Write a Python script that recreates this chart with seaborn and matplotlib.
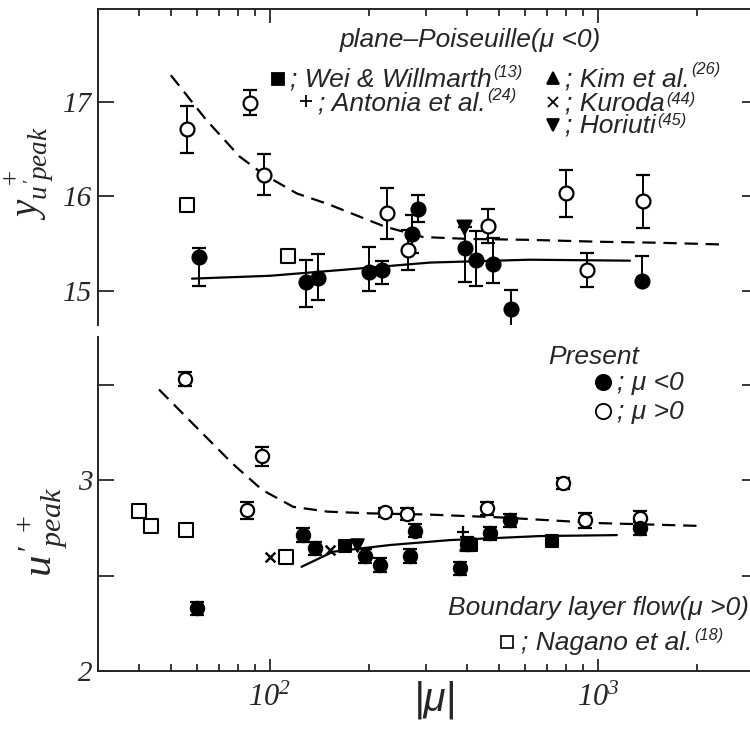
import matplotlib
matplotlib.use('Agg')
import matplotlib.pyplot as plt
from matplotlib.lines import Line2D
import seaborn as sns
import pandas as pd
import numpy as np

# ---- top panel: y_u'peak+ ----
top_neg_x = [61, 129, 140, 200, 220, 272, 283, 394, 424, 477, 543, 1364]
top_neg_y = [15.36, 15.09, 15.14, 15.20, 15.22, 15.60, 15.87, 15.45, 15.33, 15.28, 14.81, 15.11]
top_neg_lo = [0.31, 0.26, 0.24, 0.20, 0.15, 0.20, 0.14, 0.36, 0.28, 0.20, 0.24, 0.0]
top_neg_hi = [0.09, 0.24, 0.25, 0.26, 0.10, 0.20, 0.14, 0.23, 0.30, 0.28, 0.20, 0.26]

top_pos_x = [56, 87, 96, 228, 264, 463, 796, 924, 1368]
top_pos_y = [16.71, 16.99, 16.23, 15.82, 15.43, 15.69, 16.03, 15.22, 15.95]
top_pos_err = [0.25, 0.13, 0.22, 0.27, 0.21, 0.18, 0.25, 0.18, 0.28]

top_nagano_x = [56, 114]
top_nagano_y = [15.91, 15.37]
top_horiuti_x = [390]
top_horiuti_y = [15.68]

top_dash_x = [50, 64, 81, 96, 121, 150, 224, 293, 400, 617, 1000, 1500, 2460]
top_dash_y = [17.28, 16.81, 16.42, 16.23, 16.03, 15.92, 15.68, 15.57, 15.55, 15.54, 15.52, 15.51, 15.49]
top_solid_x = [58, 100, 163, 308, 617, 1250]
top_solid_y = [15.13, 15.16, 15.22, 15.30, 15.33, 15.32]

# ---- bottom panel: u'peak+ ----
bot_neg_x = [60, 126, 137, 195, 216, 267, 277, 379, 398, 469, 540, 1343]
bot_neg_y = [2.328, 2.712, 2.642, 2.602, 2.555, 2.602, 2.735, 2.538, 2.665, 2.721, 2.79, 2.747]
bot_neg_err = [0.035] * 12

bot_pos_x = [55.4, 85, 95, 224, 261, 458, 783, 912, 1343]
bot_pos_y = [3.529, 2.843, 3.126, 2.831, 2.822, 2.852, 2.983, 2.79, 2.80]
bot_pos_err = [0.035, 0.045, 0.05, 0.025, 0.03, 0.035, 0.03, 0.04, 0.04]

bot_nagano_x = [40, 43.6, 55.5, 112.4]
bot_nagano_y = [2.839, 2.761, 2.738, 2.598]
bot_kuroda_x = [100, 152.5]
bot_kuroda_y = [2.595, 2.633]
bot_wei_x = [170, 410, 722]
bot_wei_y = [2.655, 2.66, 2.682]
bot_kim_x = [395]
bot_kim_y = [2.665]
bot_horiuti_x = [185, 402]
bot_horiuti_y = [2.66, 2.665]
bot_antonia_x = [388]
bot_antonia_y = [2.73]

bot_dash_x = [46, 61, 77, 95, 118, 150, 202, 300, 500, 1000, 2050]
bot_dash_y = [3.475, 3.262, 3.087, 2.948, 2.86, 2.835, 2.826, 2.82, 2.805, 2.775, 2.76]
bot_solid_x = [125, 156, 232, 354, 665, 1140]
bot_solid_y = [2.546, 2.625, 2.66, 2.686, 2.707, 2.712]

sns.set_style('ticks')
plt.rcParams['font.family'] = ['Liberation Sans', 'DejaVu Sans']
plt.rcParams['mathtext.fontset'] = 'custom'
plt.rcParams['mathtext.rm'] = 'Liberation Serif:italic'
plt.rcParams['mathtext.it'] = 'Liberation Serif:italic'
plt.rcParams['mathtext.default'] = 'it'

W, H = 750, 731
fig = plt.figure(figsize=(7.5, 7.31), dpi=100)


def fx(px):
    return px / W


def fy(py):
    return 1 - py / H


ax1 = fig.add_axes([fx(98), fy(325), 1 - fx(98), fy(9) - fy(325)])
ax2 = fig.add_axes([fx(98), fy(671), 1 - fx(98), fy(337) - fy(671)])

for ax in (ax1, ax2):
    ax.set_xscale('log')
    ax.set_xlim(30, 2900)
    ax.patch.set_visible(False)
ax1.set_ylim(14.64, 17.98)
ax2.set_ylim(2.0, 3.75)


def curve(ax, x, y, dashed):
    ls = (0, (6, 3.5)) if dashed else '-'
    sns.lineplot(x=x, y=y, ax=ax, color='black', linewidth=1.6, linestyle=ls,
                 sort=False, estimator=None, zorder=1)


def points(ax, x, y, lo, hi, filled, ms=10):
    ax.errorbar(x, y, yerr=[lo, hi], fmt='none', ecolor='black', elinewidth=1.4,
                capsize=5, capthick=1.6, zorder=2)
    sns.scatterplot(x=x, y=y, ax=ax, marker='o', s=ms ** 2,
                    color='black' if filled else 'white', edgecolor='black',
                    linewidth=1.6, zorder=3)


def marks(ax, x, y, marker, filled=True, ms=10, lw=1.5):
    if marker in ('x', '+'):
        sns.scatterplot(x=x, y=y, ax=ax, marker=marker, s=ms ** 2, color='black',
                        linewidth=lw, zorder=3)
    else:
        sns.scatterplot(x=x, y=y, ax=ax, marker=marker, s=ms ** 2,
                        color='black' if filled else 'white', edgecolor='black',
                        linewidth=lw, zorder=3)


# top panel
curve(ax1, top_dash_x, top_dash_y, True)
curve(ax1, top_solid_x, top_solid_y, False)
points(ax1, top_pos_x, top_pos_y, top_pos_err, top_pos_err, False)
points(ax1, top_neg_x, top_neg_y, top_neg_lo, top_neg_hi, True)
marks(ax1, top_nagano_x, top_nagano_y, 's', filled=False, ms=10)
marks(ax1, top_horiuti_x, top_horiuti_y, 'v', ms=10)

# bottom panel
curve(ax2, bot_dash_x, bot_dash_y, True)
curve(ax2, bot_solid_x, bot_solid_y, False)
points(ax2, bot_pos_x, bot_pos_y, bot_pos_err, bot_pos_err, False, ms=9.5)
points(ax2, bot_neg_x, bot_neg_y, bot_neg_err, bot_neg_err, True, ms=9.5)
marks(ax2, bot_nagano_x, bot_nagano_y, 's', filled=False, ms=10)
marks(ax2, bot_kuroda_x, bot_kuroda_y, 'x', ms=7, lw=1.8)
marks(ax2, bot_wei_x, bot_wei_y, 's', ms=9)
marks(ax2, bot_kim_x, bot_kim_y, '^', ms=9)
marks(ax2, bot_horiuti_x, bot_horiuti_y, 'v', ms=9)
marks(ax2, bot_antonia_x, bot_antonia_y, '+', ms=9, lw=1.6)

for ax in (ax1, ax2):
    ax.set_xlabel('')
    ax.set_ylabel('')
    ax.spines['right'].set_visible(False)
    for s in ax.spines.values():
        s.set_linewidth(1.4)

serif = dict(fontfamily='Liberation Serif', fontstyle='italic')

# top axes ticks
ax1.spines['bottom'].set_visible(False)
ax1.xaxis.tick_top()
ax1.tick_params(axis='x', which='both', direction='in', top=True, bottom=False,
                labeltop=False, labelbottom=False, width=1.3)
ax1.tick_params(axis='x', which='major', length=10)
ax1.tick_params(axis='x', which='minor', length=5)
ax1.set_yticks([15, 16, 17], ['15', '16', '17'], fontsize=21, **serif)
ax1.tick_params(axis='y', direction='in', length=11.5, width=1.3, pad=4)

# bottom axes ticks
ax2.spines['top'].set_visible(False)
ax2.set_xticks([100, 1000], [r'$10^{2}$', r'$10^{3}$'], fontsize=22)
ax2.tick_params(axis='x', which='both', direction='in', top=False, width=1.3, pad=9)
ax2.tick_params(axis='x', which='major', length=9)
ax2.tick_params(axis='x', which='minor', length=5)
ax2.set_yticks([2, 2.5, 3, 3.5], ['2', '', '3', ''], fontsize=21, **serif)
ax2.tick_params(axis='y', direction='in', length=11.5, width=1.3, pad=4)

# short inward ticks on the right side
for ax, ticks in ((ax1, [15, 16, 17]), (ax2, [2.5, 3, 3.5])):
    r = ax.twinx()
    r.set_ylim(ax.get_ylim())
    r.set_yticks(ticks)
    r.tick_params(axis='y', direction='in', length=6, width=1.3, labelright=False)
    for s in r.spines.values():
        s.set_visible(False)

# axis labels
fig.text(fx(29), fy(173), r'$y_{u^{\prime}peak}^{\ +}$', rotation=90,
         ha='center', va='center', fontsize=28)
fig.text(fx(43), fy(532), r'$u^{\prime}{}_{peak}^{\ +}$', rotation=90,
         ha='center', va='center', fontsize=31)
fig.text(fx(435), fy(700), '|μ|', ha='center', va='center', fontsize=29,
         style='italic')

# in-plot legend texts
LS = 19


def note(px, py, s, sup=None, size=LS, rise=0.52):
    t = fig.text(fx(px), fy(py), s, fontsize=size, style='italic', ha='left', va='center')
    if sup:
        fig.canvas.draw()
        bb = t.get_window_extent()
        fig.text(bb.x1 / W + 0.002, bb.y0 / H + rise * bb.height / H, sup,
                 fontsize=size * 0.62, style='italic', ha='left', va='bottom')
    return t


def key(px, py, marker, filled=True, ms=8, lw=1.3):
    face = 'black' if filled else 'white'
    fig.add_artist(Line2D([fx(px)], [fy(py)], marker=marker, ms=ms, mfc=face,
                          mec='black', mew=lw, color='black',
                          transform=fig.transFigure))


note(340, 40, 'plane–Poiseuille(μ <0)')
key(278, 79, 's', ms=8)
note(290, 80, '; Wei & Willmarth', '(13)')
key(306, 101, '+', ms=9, lw=1.3)
note(318, 103, '; Antonia et al.', '(24)')
key(553, 78, '^', ms=9)
note(565, 79, '; Kim et al.', '(26)', rise=0.6)
key(553, 102, 'x', ms=7, lw=1.3)
note(565, 104, '; Kuroda', '(44)', rise=0.36)
key(553, 125, 'v', ms=9)
note(565, 126, '; Horiuti', '(45)', rise=0.4)

note(548, 357, 'Present')
key(603, 382, 'o', ms=11)
note(617, 383, '; μ <0')
key(603, 411, 'o', filled=False, ms=11)
note(617, 412, '; μ >0')
note(448, 608, 'Boundary layer flow(μ >0)')
key(507, 642, 's', filled=False, ms=9, lw=1.2)
note(521, 643, '; Nagano et al.', '(18)')

fig.savefig('out.png', dpi=100)
